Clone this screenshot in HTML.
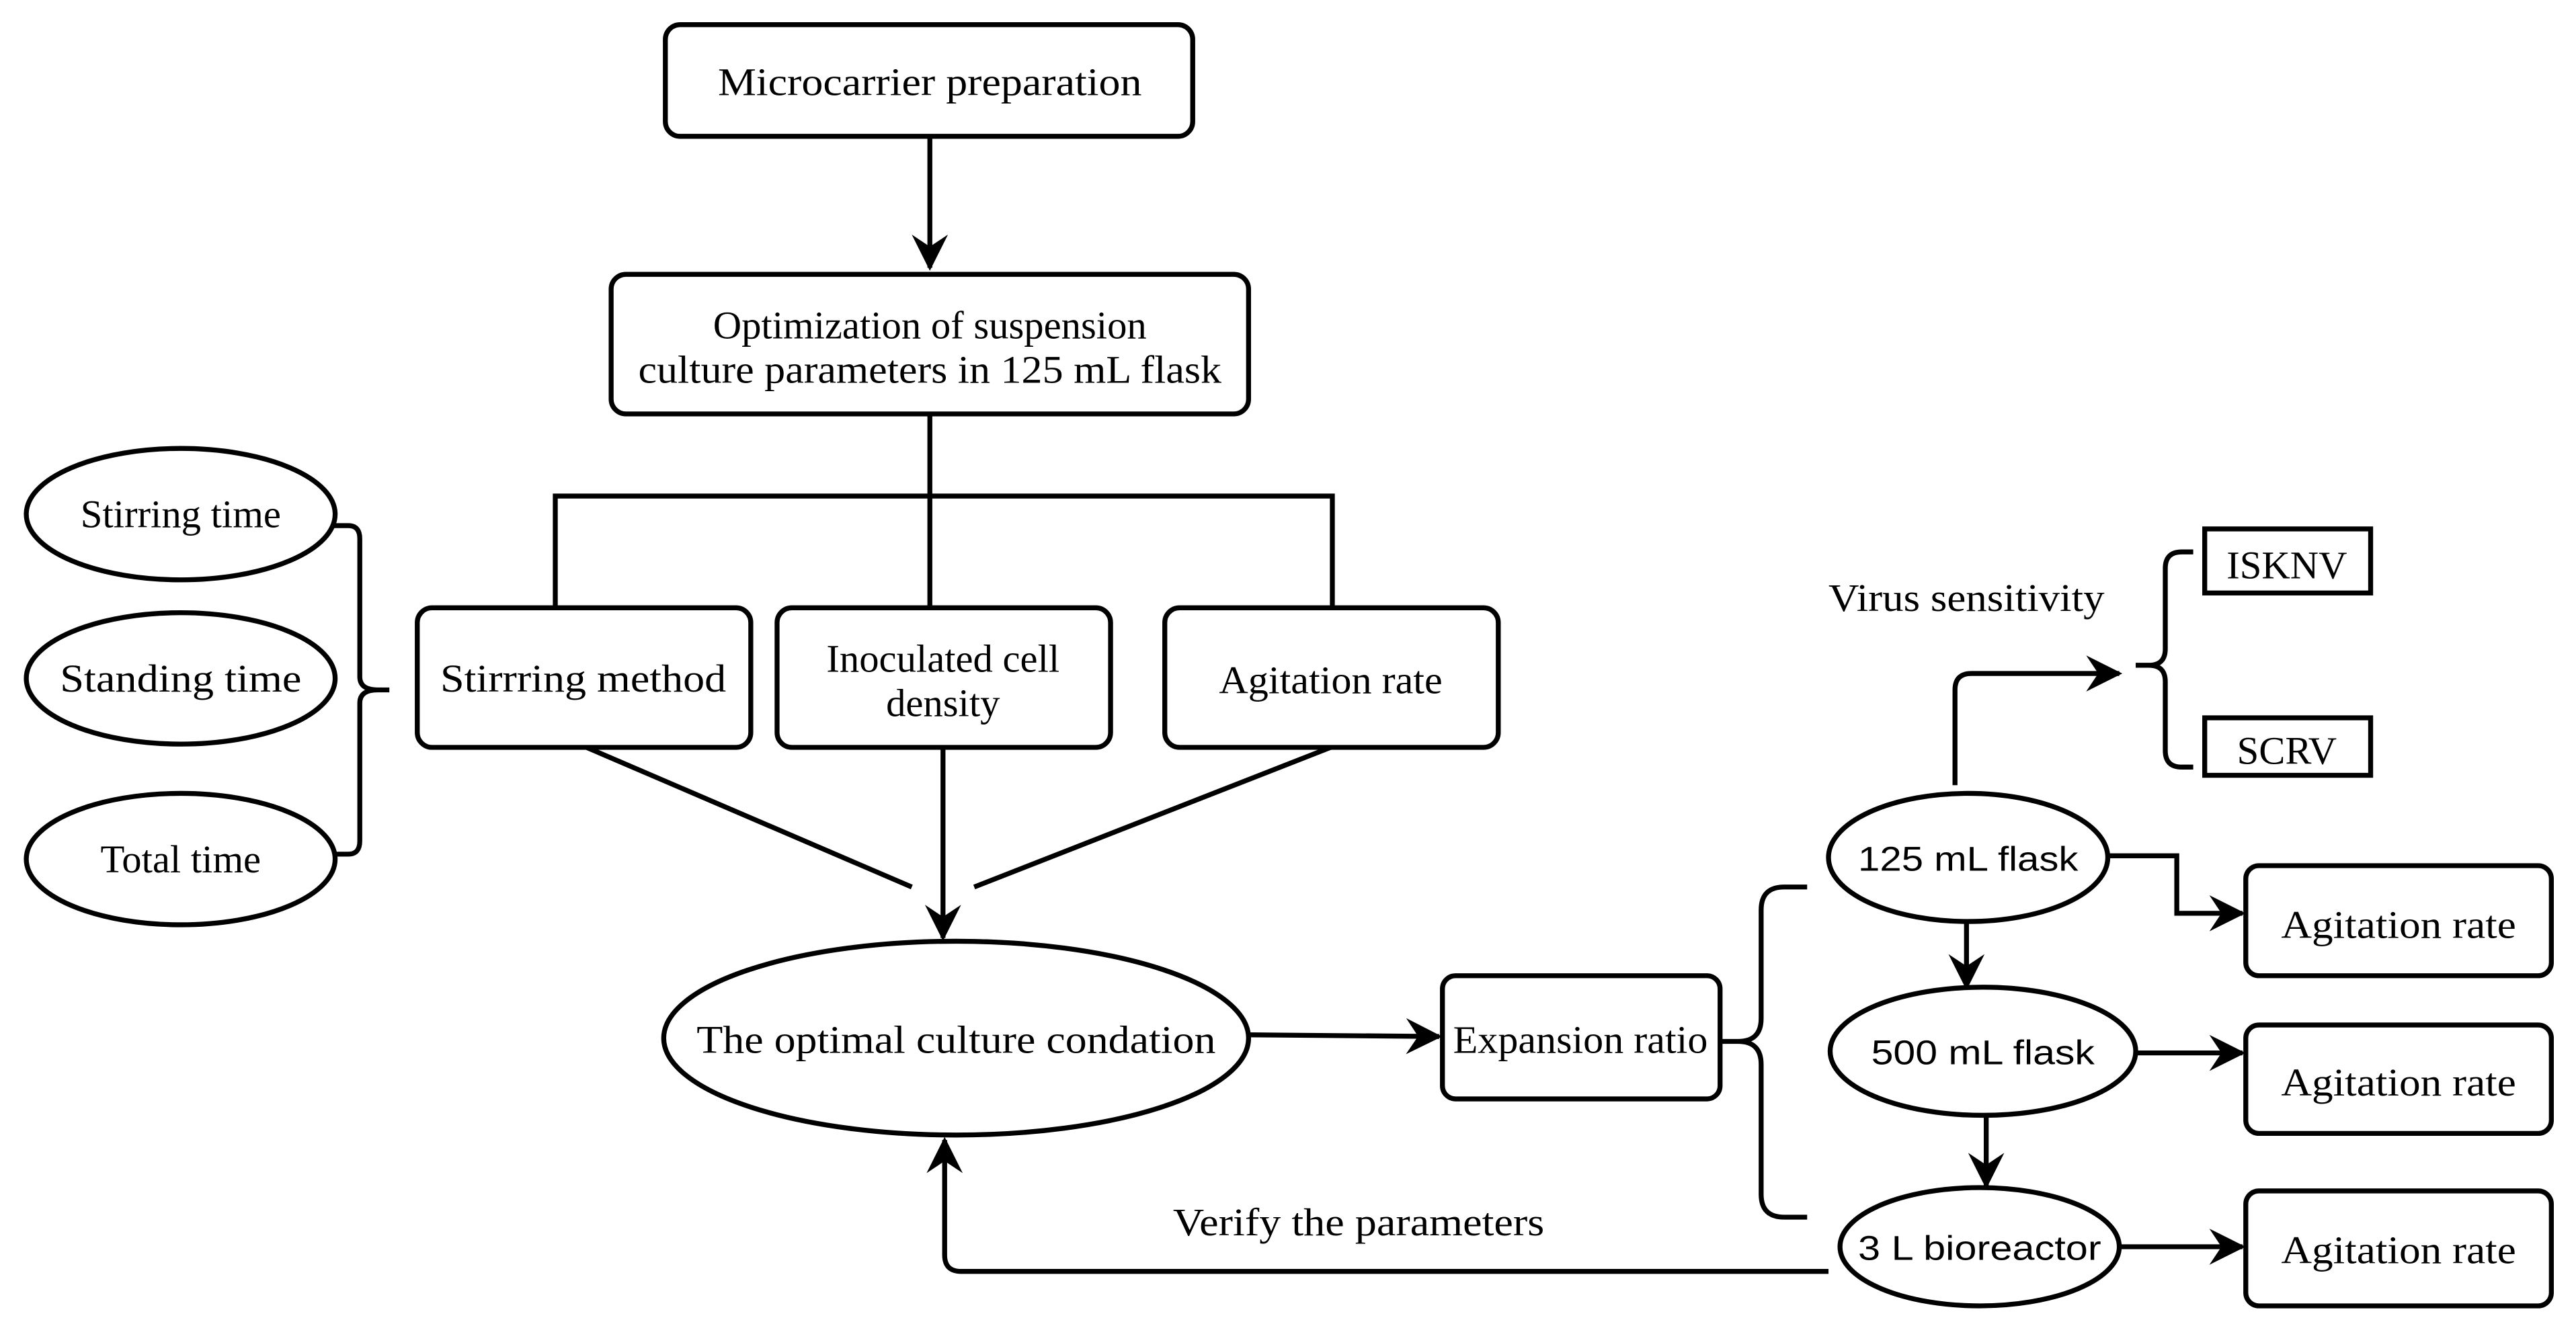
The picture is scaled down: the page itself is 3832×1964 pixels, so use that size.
<!DOCTYPE html>
<html><head><meta charset="utf-8"><style>html,body{margin:0;padding:0;background:#fff}svg{display:block}</style></head>
<body>
<svg width="3832" height="1964" viewBox="0 0 1568 803.6" preserveAspectRatio="none" xmlns="http://www.w3.org/2000/svg">
<defs>
<marker id="b" viewBox="0 0 12 12" markerWidth="22" markerHeight="22" refX="11" refY="6" orient="auto" markerUnits="userSpaceOnUse">
<path d="M0,0 L12,6 L0,12 L4,6 Z" fill="#000"/>
</marker>
</defs>
<g fill="none" stroke="#000" stroke-width="3">
<rect x="405" y="15" width="321" height="68" rx="9"/>
<rect x="372" y="167" width="388" height="85" rx="9"/>
<rect x="254" y="370" width="203" height="85" rx="9"/>
<rect x="473" y="370" width="203" height="85" rx="9"/>
<rect x="709" y="370" width="203" height="85" rx="9"/>
<ellipse cx="582" cy="632" rx="178" ry="59"/>
<rect x="878" y="594" width="169" height="75" rx="8"/>
<ellipse cx="110" cy="313" rx="94" ry="40"/>
<ellipse cx="110" cy="413" rx="94" ry="40"/>
<ellipse cx="110" cy="523" rx="94" ry="40"/>
<path d="M203,320 H212 Q219,320 219,328 V412 Q219,420 230,420 H237 M230,420 Q219,420 219,428 V512 Q219,520 212,520 H203"/>
<path d="M566,83 V163" marker-end="url(#b)"/>
<path d="M566,252 V370"/>
<path d="M338,370 V302 H811 V370"/>
<path d="M357,455 L555,540"/>
<path d="M810,455 L593,540"/>
<path d="M574,455 V571" marker-end="url(#b)"/>
<path d="M760,630 L876,631" marker-end="url(#b)"/>
<path d="M1113,774 H585 Q575,774 575,764 V694" marker-end="url(#b)"/>
<path d="M1047,634 H1058 Q1072,634 1072,620 V554 Q1072,540 1086,540 H1100 M1058,634 Q1072,634 1072,648 V727 Q1072,741 1086,741 H1100"/>
<ellipse cx="1198" cy="522" rx="85" ry="39"/>
<ellipse cx="1207" cy="640" rx="93" ry="39"/>
<ellipse cx="1205" cy="759" rx="85" ry="36"/>
<path d="M1197,561 V601" marker-end="url(#b)"/>
<path d="M1209,679 V722" marker-end="url(#b)"/>
<path d="M1284,521 H1325 V556 H1365" marker-end="url(#b)"/>
<path d="M1300,641 H1365" marker-end="url(#b)"/>
<path d="M1290,759 H1365" marker-end="url(#b)"/>
<rect x="1367" y="527" width="186" height="67" rx="8"/>
<rect x="1367" y="624" width="186" height="66" rx="8"/>
<rect x="1367" y="725" width="186" height="70" rx="8"/>
<path d="M1190,478 V420 Q1190,410 1200,410 H1290" marker-end="url(#b)"/>
<path d="M1300,405 H1308 Q1318,405 1318,395 V346 Q1318,336 1328,336 H1335 M1308,405 Q1318,405 1318,415 V457 Q1318,467 1328,467 H1335"/>
<rect x="1342" y="322" width="101" height="39"/>
<rect x="1342" y="437" width="101" height="35"/>
</g>
<g font-family="Liberation Serif, serif" font-size="24" text-anchor="middle" fill="#000">
<text x="566" y="58" textLength="258" lengthAdjust="spacingAndGlyphs">Microcarrier preparation</text>
<text x="566" y="206">Optimization of suspension</text>
<text x="566" y="233" textLength="355" lengthAdjust="spacingAndGlyphs">culture parameters in 125 mL flask</text>
<text x="355" y="421" textLength="174" lengthAdjust="spacingAndGlyphs">Stirrring method</text>
<text x="574" y="409">Inoculated cell</text>
<text x="574" y="436">density</text>
<text x="810" y="422" textLength="136" lengthAdjust="spacingAndGlyphs">Agitation rate</text>
<text x="582" y="641" textLength="316" lengthAdjust="spacingAndGlyphs">The optimal culture condation</text>
<text x="962" y="641" textLength="155" lengthAdjust="spacingAndGlyphs">Expansion ratio</text>
<text x="110" y="321">Stirring time</text>
<text x="110" y="421" textLength="147" lengthAdjust="spacingAndGlyphs">Standing time</text>
<text x="110" y="531">Total time</text>
<text x="827" y="752" textLength="226" lengthAdjust="spacingAndGlyphs">Verify the parameters</text>
<text x="1197" y="372" textLength="168" lengthAdjust="spacingAndGlyphs">Virus sensitivity</text>
<text x="1392" y="352">ISKNV</text>
<text x="1392" y="465">SCRV</text>
<text x="1460" y="571" textLength="143" lengthAdjust="spacingAndGlyphs">Agitation rate</text>
<text x="1460" y="667" textLength="143" lengthAdjust="spacingAndGlyphs">Agitation rate</text>
<text x="1460" y="769" textLength="143" lengthAdjust="spacingAndGlyphs">Agitation rate</text>
</g>
<g font-family="Liberation Sans, sans-serif" font-size="21" text-anchor="middle" fill="#000">
<text x="1198" y="530" textLength="134" lengthAdjust="spacingAndGlyphs">125 mL flask</text>
<text x="1207" y="648" textLength="136" lengthAdjust="spacingAndGlyphs">500 mL flask</text>
<text x="1205" y="767" textLength="148" lengthAdjust="spacingAndGlyphs">3 L bioreactor</text>
</g>
</svg>
</body></html>
